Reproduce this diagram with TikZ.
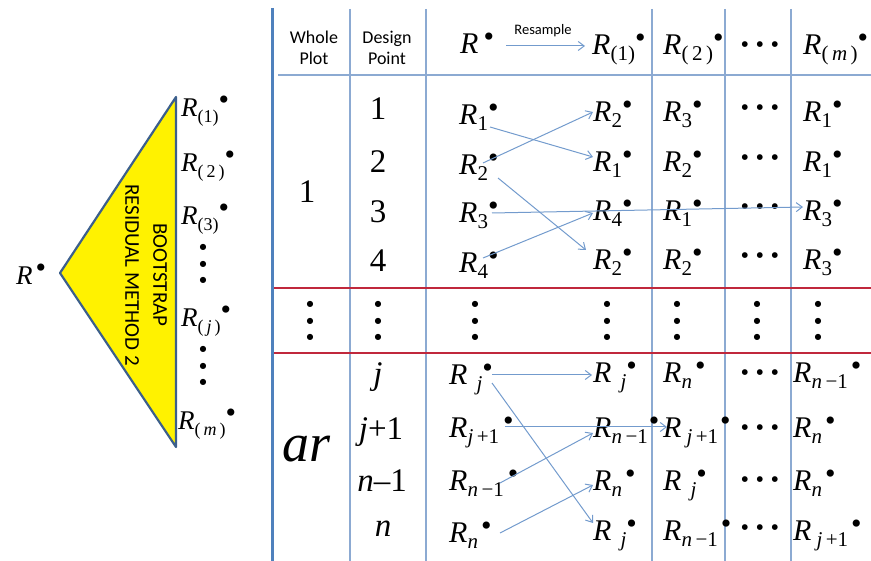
\documentclass[tikz,border=0pt]{standalone}
\usepackage{fontspec}
\setmainfont{Liberation Serif}
\newfontfamily\calib{Carlito}
\newfontfamily\djv{DejaVu Sans}
\usetikzlibrary{arrows.meta}
\definecolor{gridblue}{RGB}{140,170,210}
\definecolor{thickblue}{RGB}{79,129,189}
\definecolor{redline}{RGB}{192,40,60}
\definecolor{arrowblue}{RGB}{115,155,205}
\definecolor{triedge}{RGB}{60,95,140}
\newcommand\bulA{\fontsize{30}{30}\selectfont\textbullet}
\NewDocumentCommand\RR{O{0pt} m O{0pt}}{\fontsize{30}{30}\selectfont\textit{R}\kern#1\raisebox{-6pt}{\fontsize{21}{21}\selectfont #2}\kern#3\raisebox{7pt}{\bulA}}
\NewDocumentCommand\RS{O{0pt} m O{0pt}}{\fontsize{27}{27}\selectfont\textit{R}\kern#1\raisebox{-6pt}{\fontsize{18}{18}\selectfont #2}\kern#3\raisebox{7pt}{\bulA}}
\newcommand\hdotsA{\djv\fontsize{7.5}{7.5}\selectfont\makebox[15pt]{●}\makebox[15pt]{●}\makebox[15pt]{●}}
\newcommand\vdotsA{●\\●\\●}
\begin{document}
\begin{tikzpicture}[x=1pt,y=-1pt,
  rcell/.style={anchor=base west, inner sep=0pt},
  dnum/.style={anchor=base, inner sep=0pt, font=\fontsize{33}{33}\selectfont},
  hdr/.style={inner sep=0pt, font=\calib\fontsize{18}{21}\selectfont, align=center},
  hdot/.style={inner sep=0pt},
  vdot/.style={inner sep=0pt, align=center, font=\djv\fontsize{8}{16.5}\selectfont},
  gridline/.style={draw=gridblue, line width=1.2pt},
  redsep/.style={draw=redline, line width=1.2pt},
  arr/.style={draw=arrowblue, line width=1pt, -{Straight Barb[length=6pt,width=9pt]}},
]
\useasboundingbox (0,0) rectangle (871,561);
% ---------- left triangle ----------
\path[draw=triedge, line width=2.2pt, fill=yellow, line join=round] (60,273) -- (176,97) -- (176,447) -- cycle;
\node[rotate=-90, align=center, inner sep=0pt, font=\calib\fontsize{21}{28}\selectfont] (tt) at (146,275) {BOOTSTRAP\\RESIDUAL METHOD 2};
\node[rcell] (R0) at (16,285) {\RS{}[3pt]};
\node[rcell] (tR1) at (181,117) {\RS{(1)}};
\node[rcell] (tR2) at (181,172) {\RS{(\,2\,)}};
\node[rcell] (tR3) at (181,225) {\RS{(3)}};
\node[vdot] (tv1) at (203,264) {\vdotsA};
\node[rcell] (tRj) at (181,327) {\RS{(\,\textit{j}\,)}};
\node[vdot] (tv2) at (203,366) {\vdotsA};
\node[rcell] (tRm) at (178,430) {\RS{(\,\textit{m}\,)}};
% ---------- table lines ----------
\draw[line width=3pt, draw=thickblue] (272,8) -- (272,561);
\foreach \xx in {350,426,652,725,791} \draw[gridline] (\xx,9) -- (\xx,561);
\draw[gridline] (278,75) -- (871,75);
\draw[redsep] (274,288) -- (871,288);
\draw[redsep] (274,353) -- (871,353);
% ---------- header ----------
\node[hdr] (hwp) at (314,48) {Whole\\Plot};
\node[hdr] (hdp) at (387,48) {Design\\Point};
\node[rcell] (hR) at (460,54) {\RR{}[5pt]};
\node[inner sep=0pt, font=\calib\fontsize{14.5}{14.5}\selectfont] (hres) at (543,31) {Resample};
\node[rcell] (hR1) at (592,55) {\RR{(1)}};
\node[rcell] (hR2) at (663,55) {\RR{(\,2\,)}};
\node[hdot] (hdd) at (760,45) {\hdotsA};
\node[rcell] (hRm) at (803,55) {\RR{(\,\textit{m}\,)}};
% ---------- section 1 ----------
\node[dnum] (wp1) at (307,203) {1};
\node[dnum] (dp1) at (378,120) {1};
\node[dnum] (dp2) at (378,173) {2};
\node[dnum] (dp3) at (378,223) {3};
\node[dnum] (dp4) at (378,272) {4};
\node[rcell] (L1) at (459,125) {\RR{1}};
\node[rcell] (L2) at (459,175) {\RR{2}};
\node[rcell] (L3) at (459,223) {\RR{3}};
\node[rcell] (L4) at (459,273) {\RR{4}};
\node[rcell] (A1) at (593,122) {\RR{2}};
\node[rcell] (A2) at (593,172) {\RR{1}};
\node[rcell] (A3) at (593,221) {\RR{4}};
\node[rcell] (A4) at (593,270) {\RR{2}};
\node[rcell] (B1) at (663,122) {\RR{3}};
\node[rcell] (B2) at (663,172) {\RR{2}};
\node[rcell] (B3) at (663,221) {\RR{1}};
\node[rcell] (B4) at (663,270) {\RR{2}};
\node[hdot] (C1) at (760,108) {\hdotsA};
\node[hdot] (C2) at (760,158) {\hdotsA};
\node[hdot] (C3) at (760,207) {\hdotsA};
\node[hdot] (C4) at (760,256) {\hdotsA};
\node[rcell] (D1) at (803,122) {\RR{1}};
\node[rcell] (D2) at (803,172) {\RR{1}};
\node[rcell] (D3) at (803,221) {\RR{3}};
\node[rcell] (D4) at (803,270) {\RR{3}};
% ---------- dots row ----------
\node[vdot] (v1) at (310,321) {\vdotsA};
\node[vdot] (v2) at (378,321) {\vdotsA};
\node[vdot] (v3) at (475,321) {\vdotsA};
\node[vdot] (v4) at (607,321) {\vdotsA};
\node[vdot] (v5) at (677,321) {\vdotsA};
\node[vdot] (v6) at (757,321) {\vdotsA};
\node[vdot] (v7) at (818,321) {\vdotsA};
% ---------- section 2 ----------
\node[anchor=base, inner sep=0pt, font=\fontsize{54}{54}\selectfont\itshape] (war) at (307,462) {ar};
\node[dnum] (dj) at (378,385) {\textit{j}};
\node[dnum] (dj1) at (381,440) {\textit{j}+1};
\node[dnum] (dn1) at (382,492) {\textit{n}–1};
\node[dnum] (dn) at (383,536) {\textit{n}};
\node[rcell] (Lj) at (449,385) {\RR[9pt]{\textit{j}}};
\node[rcell] (Lj1) at (449,438) {\RR{\textit{j}\,+1}[4pt]};
\node[rcell] (Ln1) at (449,490) {\RR{\textit{n}\,−1}[4pt]};
\node[rcell] (Ln) at (449,542) {\RR{\textit{n}}[3pt]};
\node[rcell] (Aj) at (593,383) {\RR[9pt]{\textit{j}}};
\node[rcell] (An1) at (593,438) {\RR{\textit{n}\,−1}[1pt]};
\node[rcell] (An) at (593,490) {\RR{\textit{n}}[3pt]};
\node[rcell] (Aj2) at (593,540) {\RR[9pt]{\textit{j}}};
\node[rcell] (Bn) at (663,383) {\RR{\textit{n}}[3pt]};
\node[rcell] (Bj1) at (663,438) {\RR[5pt]{\textit{j}\,+1}[2pt]};
\node[rcell] (Bj) at (663,490) {\RR[9pt]{\textit{j}}};
\node[rcell] (Bn1) at (663,540) {\RR{\textit{n}\,−1}[3pt]};
\node[hdot] (Cb1) at (760,373) {\hdotsA};
\node[hdot] (Cb2) at (760,428) {\hdotsA};
\node[hdot] (Cb3) at (760,480) {\hdotsA};
\node[hdot] (Cb4) at (760,528) {\hdotsA};
\node[rcell] (Dn1) at (793,383) {\RR{\textit{n}\,−1}[3pt]};
\node[rcell] (Dn) at (793,438) {\RR{\textit{n}}[3pt]};
\node[rcell] (Dn2) at (793,490) {\RR{\textit{n}}[3pt]};
\node[rcell] (Dj1) at (793,540) {\RR[5pt]{\textit{j}\,+1}[3pt]};
% ---------- arrows ----------
\draw[arr] ([shift={(46,-8)}]hR.base west) -- ([shift={(-7,-9)}]hR1.base west);
\draw[arr] ([shift={(31,2)}]L1.base west) -- ([shift={(0,-15)}]A2.base west);
\draw[arr] ([shift={(24,-12)}]L2.base west) -- ([shift={(0,-10)}]A1.base west);
\draw[arr] ([shift={(39,3)}]L2.base west) -- ([shift={(-7,-20)}]A4.base west);
\draw[arr] ([shift={(33,-10)}]L3.base west) -- ([shift={(0,-14)}]D3.base west);
\draw[arr] ([shift={(24,-15)}]L4.base west) -- ([shift={(0,-8)}]A3.base west);
\draw[arr] ([shift={(43,-10)}]Lj.base west) -- ([shift={(-1,-8)}]Aj.base west);
\draw[arr] ([shift={(43,-2)}]Lj.base west) -- ([shift={(0,-17)}]Aj2.base west);
\draw[arr] ([shift={(56,-11)}]Lj1.base west) -- ([shift={(4,-11)}]Bj1.base west);
\draw[arr] ([shift={(51,-7)}]Ln1.base west) -- ([shift={(0,-5)}]An1.base west);
\draw[arr] ([shift={(51,-9)}]Ln.base west) -- ([shift={(0,-5)}]An.base west);
\end{tikzpicture}
\end{document}
